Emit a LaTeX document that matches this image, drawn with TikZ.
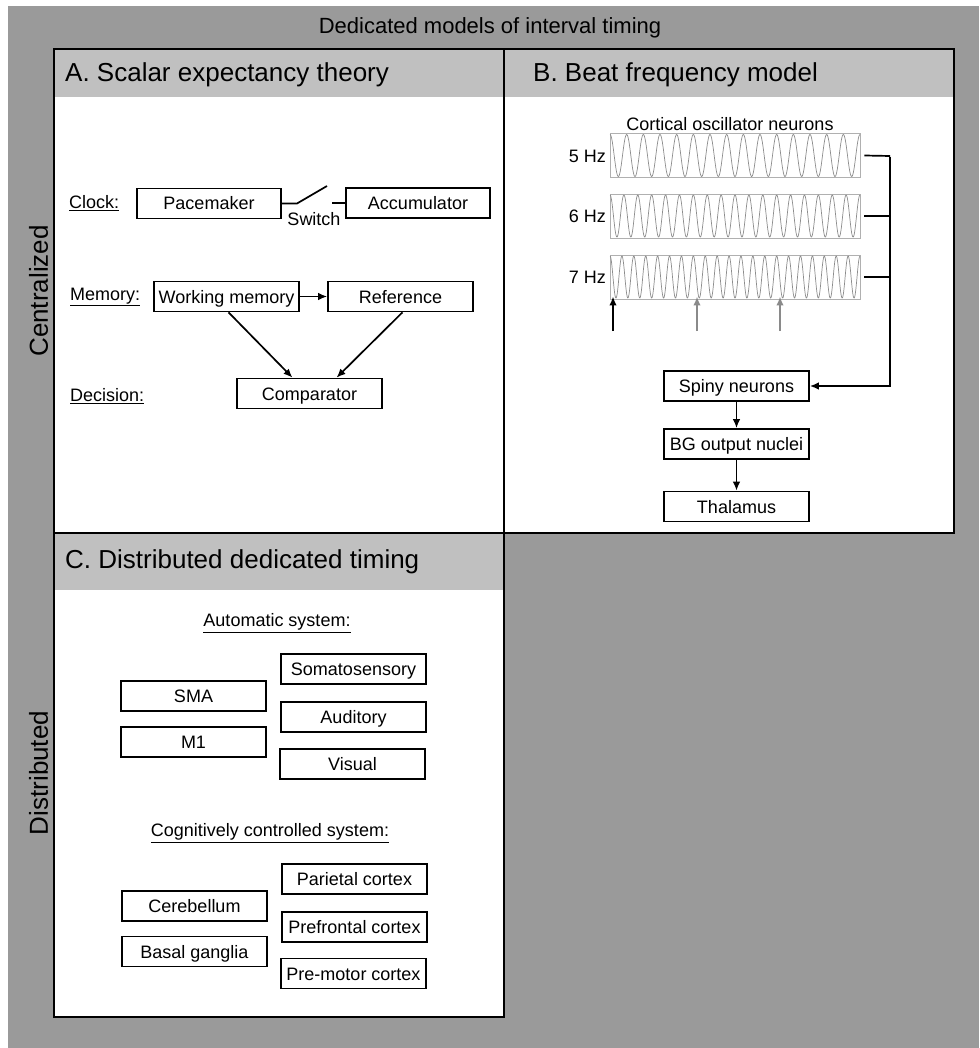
\documentclass[tikz,border=0pt]{standalone}
\usepackage{fontspec}
\setmainfont{Liberation Sans}
\usetikzlibrary{arrows.meta}
\definecolor{bggray}{HTML}{9A9A9A}
\definecolor{hdgray}{HTML}{C0C0C0}
\definecolor{oscgray}{HTML}{B0B0B0}
\definecolor{wavegray}{HTML}{8C8C8C}
\definecolor{arrgray}{HTML}{8A8A8A}
\tikzset{
  box/.style={draw, line width=1.6pt, minimum width=145pt, minimum height=30pt, inner sep=0pt, text height=13pt, text depth=0pt, font=\fontsize{18}{20}\selectfont},
  lbl/.style={inner sep=0pt, font=\fontsize{18}{20}\selectfont},
  heading/.style={inner sep=0pt, anchor=west, font=\fontsize{26}{30}\selectfont},
  side/.style={inner sep=0pt, rotate=90, font=\fontsize{26}{30}\selectfont},
  hdr/.style={fill=hdgray},
  frame/.style={line width=2pt},
  conn/.style={line width=1.7pt},
  arr/.style={line width=1.7pt, -{Latex[length=9pt,width=7.5pt]}},
  osc/.style={draw=oscgray, line width=0.9pt, minimum width=250pt, minimum height=44pt, inner sep=0pt},
  wave/.style={draw=wavegray, line width=0.7pt},
}
\begin{document}
\begin{tikzpicture}[x=1pt,y=-1pt]
\useasboundingbox (0,0) rectangle (979,1048);
\fill[bggray] (8,6) rectangle (979,1048);
\node[inner sep=0pt, font=\fontsize{22}{26}\selectfont] (title) at (490,28) {Dedicated models of interval timing};
% panels
\fill[white] (54,49) rectangle (504,533);
\fill[hdr] (54,49) rectangle (504,97);
\fill[white] (504,49) rectangle (954,533);
\fill[hdr] (504,49) rectangle (954,97);
\fill[white] (54,533) rectangle (504,1017);
\fill[hdr] (54,533) rectangle (504,590);
\draw[frame] (54,49) rectangle (504,533);
\draw[frame] (504,49) rectangle (954,533);
\draw[frame] (54,533) rectangle (504,1017);
\node[heading] (hA) at (65,75) {A. Scalar expectancy theory};
\node[heading] (hB) at (533,75) {B. Beat frequency model};
\node[heading] (hC) at (65,562) {C. Distributed dedicated timing};
\node[side] (cent) at (38.5,291) {Centralized};
\node[side] (dist) at (38.5,773) {Distributed};
% Panel A
\node[lbl, anchor=west] (clock) at (69,203) {\underline{Clock:}};
\node[lbl, anchor=west] (memory) at (70,297) {\underline{Memory:}};
\node[lbl, anchor=west] (decision) at (70,396) {\underline{Decision:}};
\node[box, minimum width=144pt] (pace) at (209,203.5) {Pacemaker};
\node[box, minimum width=144pt] (acc) at (418,203) {Accumulator};
\node[lbl] (switch) at (314,219) {Switch};
\coordinate (sw1) at (297,203.5);
\coordinate (sw2) at (327,186);
\coordinate (sw3) at (332,203);
\draw[conn] (pace.east) -- (sw1) -- (sw2);
\draw[conn] (sw3) -- (acc.west);
\node[box] (wm) at (226.5,296.5) {Working memory};
\node[box] (ref) at (400.5,296.5) {Reference};
\node[box] (comp) at (309.5,393.5) {Comparator};
\draw[arr] (wm) -- (ref);
\draw[arr] ([xshift=2pt]wm.south) -- ([xshift=-17pt]comp.north);
\draw[arr] ([xshift=2pt]ref.south) -- ([xshift=27pt]comp.north);
% Panel B
\node[lbl] (cortical) at (730,124) {Cortical oscillator neurons};
\node[osc] (o5) at (735,155.5) {};
\node[osc] (o6) at (735,216) {};
\node[osc] (o7) at (735,277) {};
\draw[wave] plot[domain=0:1, samples=500] ({610+250*\x},{155.5-21*cos(360*15*\x)});
\draw[wave] plot[domain=0:1, samples=600] ({610+250*\x},{216-21*cos(360*18*\x)});
\draw[wave] plot[domain=0:1, samples=700] ({610+250*\x},{277-21*cos(360*21*\x)});
\node[lbl, anchor=east] (f5) at (606,156) {5 Hz};
\node[lbl, anchor=east] (f6) at (606,216) {6 Hz};
\node[lbl, anchor=east] (f7) at (606,277) {7 Hz};
\coordinate (t0) at (613,331);
\coordinate (t1) at (697,331);
\coordinate (t2) at (780,331);
\draw[arr] (t0) -- ([yshift=3pt]o7.south -| t0);
\draw[arr, draw=arrgray, color=arrgray] (t1) -- ([yshift=3pt]o7.south -| t1);
\draw[arr, draw=arrgray, color=arrgray] (t2) -- ([yshift=3pt]o7.south -| t2);
\node[box] (spiny) at (736.5,386) {Spiny neurons};
\node[box] (bgo) at (736.5,444) {BG output nuclei};
\node[box] (thal) at (736.5,506.5) {Thalamus};
\coordinate (b5) at (890,156);
\draw[conn] ([xshift=4pt]o5.east) -- (b5);
\draw[conn] ([xshift=4pt]o6.east) -- (o6.east -| b5);
\draw[conn] ([xshift=4pt]o7.east) -- (o7.east -| b5);
\draw[arr] ([yshift=-0.8pt]b5) |- (spiny.east);
\draw[arr] (spiny) -- (bgo);
\draw[arr] (bgo) -- (thal);
% Panel C
\node[lbl] (auto) at (277,623) {\underline{Automatic system:}};
\node[box] (soma) at (353.5,669) {Somatosensory};
\node[box] (sma) at (193.5,696) {SMA};
\node[box] (aud) at (353.5,717) {Auditory};
\node[box] (m1) at (193.5,742) {M1};
\node[box] (vis) at (352.5,764) {Visual};
\node[lbl] (cog) at (270,833) {\underline{Cognitively controlled system:}};
\node[box] (par) at (354.5,879) {Parietal cortex};
\node[box] (cer) at (194.5,906) {Cerebellum};
\node[box] (pfc) at (354.5,927) {Prefrontal cortex};
\node[box] (bas) at (194.5,951.5) {Basal ganglia};
\node[box] (pm) at (353.5,973.5) {Pre-motor cortex};
\end{tikzpicture}
\end{document}
